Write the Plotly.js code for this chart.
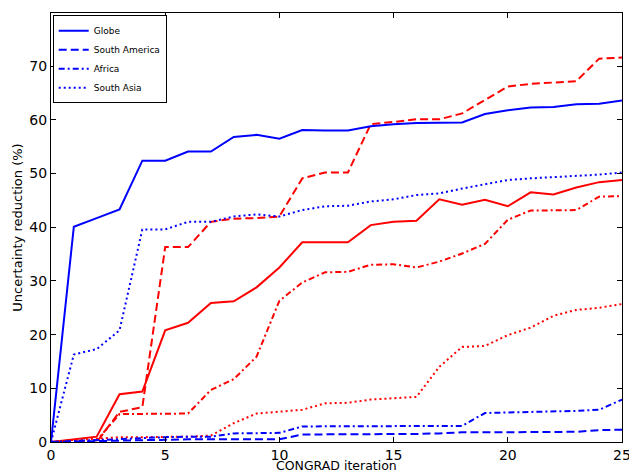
<!DOCTYPE html>
<html>
<head>
<meta charset="utf-8">
<script src="https://cdn.plot.ly/plotly-3.0.1.min.js"></script>
<style>html,body{margin:0;padding:0;background:#fff;}#chart{width:629px;height:473px;}</style>
</head>
<body>
<div id="chart"></div>
<script>
const iterations = [0,1,2,3,4,5,6,7,8,9,10,11,12,13,14,15,16,17,18,19,20,21,22,23,24,25];

// Blue series (legend entries)
const globeBlue = [0,40.1,41.7,43.3,52.4,52.4,54.1,54.1,56.8,57.2,56.5,58.1,58.0,58.0,58.8,59.2,59.4,59.5,59.5,61.1,61.8,62.3,62.4,62.9,63.0,63.6];
const southAmericaBlue = [0,0.1,0.2,0.3,0.4,0.5,0.5,0.5,0.5,0.5,0.5,1.4,1.4,1.4,1.5,1.5,1.5,1.6,1.8,1.8,1.8,1.8,1.8,1.9,2.2,2.3];
const africaBlue = [0,0.2,0.4,0.6,0.8,0.9,1.0,1.0,1.6,1.7,1.7,2.9,2.9,2.9,3.0,3.0,3.0,3.0,3.0,5.4,5.5,5.5,5.6,5.8,6.0,7.9];
const southAsiaBlue = [0,16.3,17.3,20.8,39.6,39.6,41.0,41.0,42.0,42.4,42.0,43.2,43.9,44.0,44.8,45.2,46.0,46.3,47.2,48.0,48.8,49.1,49.3,49.5,49.8,50.2];

// Red series
const globeRed = [0,0.5,1.0,8.9,9.4,20.8,22.2,25.9,26.2,28.8,32.5,37.2,37.2,37.2,40.4,41.0,41.2,45.2,44.2,45.1,43.9,46.5,46.1,47.4,48.4,48.8];
const southAmericaRed = [0,0,0,5.6,6.5,36.3,36.3,41.0,41.6,41.7,42.0,49.1,50.2,50.2,59.2,59.6,60.1,60.1,61.2,63.7,66.2,66.7,66.9,67.2,71.4,71.6];
const africaRed = [0,0.1,0.3,5.2,5.2,5.3,5.3,9.7,11.7,15.9,26.3,29.7,31.6,31.7,33.0,33.1,32.5,33.6,35.1,36.9,41.4,43.1,43.1,43.2,45.7,45.8];
const southAsiaRed = [0,0.4,0.6,0.9,0.9,0.9,1.0,1.2,3.5,5.3,5.6,6.0,7.2,7.3,7.9,8.1,8.4,14.0,17.7,17.9,19.9,21.3,23.5,24.6,25.0,25.7];

const seriesNames = ['Globe','South America','Africa','South Asia'];
const dashes = ['solid','8px,4px','6px,3px,2px,3px','2px,3px'];
const blueData = [globeBlue, southAmericaBlue, africaBlue, southAsiaBlue];
const redData = [globeRed, southAmericaRed, africaRed, southAsiaRed];

const traces = [];
redData.forEach((ys, k) => {
  traces.push({x: iterations, y: ys, mode: 'lines', name: seriesNames[k] + ' (red)', showlegend: false,
    line: {color: '#ff0000', width: 2, dash: dashes[k]}, hoverinfo: 'skip'});
});
blueData.forEach((ys, k) => {
  traces.push({x: iterations, y: ys, mode: 'lines', name: seriesNames[k],
    line: {color: '#0000ff', width: 2, dash: dashes[k]}});
});

const axisCommon = {
  showline: true, linecolor: '#000', linewidth: 1, mirror: 'ticks',
  ticks: 'inside', ticklen: 5, tickcolor: '#000', tickwidth: 1,
  showgrid: false, zeroline: false, ticklabeloverflow: 'allow',
  tickfont: {family: 'DejaVu Sans', size: 14, color: '#000'}
};

const layout = {
  width: 629, height: 473,
  margin: {l: 51, r: 7, t: 13, b: 31},
  paper_bgcolor: '#fff', plot_bgcolor: '#fff',
  font: {family: 'DejaVu Sans', color: '#000'},
  xaxis: Object.assign({}, axisCommon, {
    range: [0, 25], tickvals: [0,5,10,15,20,25]
  }),
  yaxis: Object.assign({}, axisCommon, {
    range: [0, 79.9], tickvals: [0,10,20,30,40,50,60,70],
    title: {text: 'Uncertainty reduction (%)', font: {size: 13}, standoff: 3}
  }),
  annotations: [{
    text: 'CONGRAD iteration', xref: 'paper', yref: 'paper', x: 0.5, y: -0.0723,
    xanchor: 'center', yanchor: 'bottom', yshift: -2, showarrow: false,
    font: {family: 'DejaVu Sans', size: 12.5, color: '#000'}
  }],
  legend: {
    x: 0.003, y: 0.995, xanchor: 'left', yanchor: 'top',
    bgcolor: '#fff', bordercolor: '#000', borderwidth: 1, itemwidth: 30,
    font: {size: 9, family: 'DejaVu Sans'}, tracegroupgap: 0
  },
  showlegend: true
};

Plotly.newPlot('chart', traces, layout, {displayModeBar: false, staticPlot: true});
</script>
</body>
</html>
